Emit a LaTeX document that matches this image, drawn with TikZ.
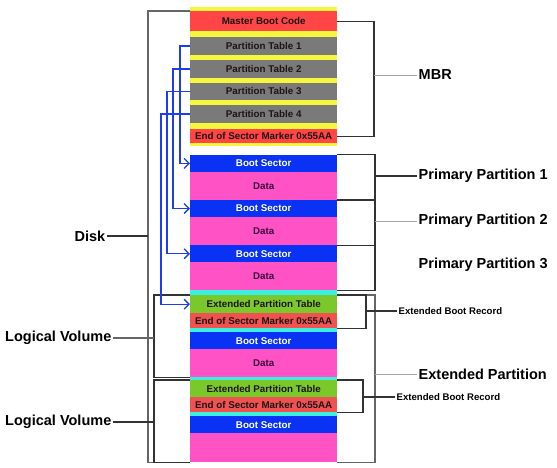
\documentclass[tikz,border=0pt]{standalone}
\usepackage{fontspec}
\setmainfont{Liberation Sans}
\usepackage{xcolor}
\usepackage{tikz}
\usetikzlibrary{arrows.meta, positioning}

\definecolor{mbrred}{HTML}{FF4545}
\definecolor{mbryellow}{HTML}{F6F63C}
\definecolor{ptgrey}{HTML}{7A7A7A}
\definecolor{bsblue}{HTML}{0A32F5}
\definecolor{datapink}{HTML}{FF52C4}
\definecolor{eptgreen}{HTML}{7AC82A}
\definecolor{eosred}{HTML}{F05252}
\definecolor{gapcyan}{HTML}{3CF0E1}
\definecolor{arrblue}{HTML}{1E3CF0}
\definecolor{txtdark}{HTML}{1E1414}
\definecolor{datatxt}{HTML}{3C0A3C}

\tikzset{
    band/.style={anchor=north west, minimum width=147pt, inner sep=0pt,
        font=\fontsize{9.8}{10}\selectfont\bfseries, text=txtdark},
    brk/.style={draw=black!80, line width=1.4pt},
    pale/.style={draw=black!35, line width=1pt},
    biglabel/.style={inner sep=1.5pt, font=\fontsize{14.5}{16}\selectfont\bfseries},
    smalllabel/.style={inner sep=1.5pt, font=\fontsize{9.6}{11}\selectfont\bfseries},
    ptr/.style={draw=arrblue, line width=1.3pt, -{Straight Barb[length=5pt,width=10pt]}},
}

\begin{document}
\begin{tikzpicture}[x=1pt, y=-1pt]
                \useasboundingbox (0,0) rectangle (557,467);

                % 1. MBR
                \fill[mbryellow] (190,7) rectangle (337,146);
                \node[band, fill=mbrred, minimum height=20pt] (mbc) at (190,11) {Master Boot Code};
                \foreach \i/\top in {1/37, 2/60, 3/82.5, 4/105} {
                    \node[band, fill=ptgrey, minimum height=17.5pt] (pt\i) at (190,\top) {Partition Table \i};
                }
                \node[band, fill=mbrred, minimum height=14pt] (eos) at (190,129) {End of Sector Marker 0x55AA};

                % 2. Primary partitions
                \foreach \i/\top in {1/154.5, 2/199.7, 3/244.9} {
                    \node[band, fill=bsblue, text=white, minimum height=17.3pt] (bs\i) at (190,\top) {Boot Sector};
                    \node[band, fill=datapink, text=datatxt, minimum height=27.9pt] (d\i) at (190,\top+17.3) {Data};
                }

                % 3. Extended partition
                \fill[gapcyan] (190,289.5) rectangle (337,462);
                \node[band, fill=eptgreen, minimum height=18pt] (ept1) at (190,295) {Extended Partition Table};
                \node[band, fill=eosred, minimum height=15pt] (eos1) at (190,313) {End of Sector Marker 0x55AA};
                \node[band, fill=bsblue, text=white, minimum height=17pt] (bs4) at (190,332) {Boot Sector};
                \node[band, fill=datapink, text=datatxt, minimum height=28pt] (d4) at (190,349) {Data};
                \node[band, fill=eptgreen, minimum height=17pt] (ept2) at (190,380) {Extended Partition Table};
                \node[band, fill=eosred, minimum height=15pt] (eos2) at (190,397) {End of Sector Marker 0x55AA};
                \node[band, fill=bsblue, text=white, minimum height=17pt] (bs5) at (190,416) {Boot Sector};
                \node[band, fill=datapink, minimum height=29pt] (d5) at (190,433) {};

                % 4. Brackets on the right
                \coordinate (mbrx) at (374,0);
                \coordinate (ppx) at (375,0);
                \coordinate (ebr1x) at (366,0);
                \coordinate (ebr2x) at (363,0);
                \draw[brk] (mbc.east) -- (mbc.east -| mbrx) -- (eos.east -| mbrx) -- (eos.east);
                \node[biglabel, anchor=west] (mbr) at (417,75) {MBR};
                \draw[pale] (mbr.west) -- (mbr.west -| mbrx);

                \draw[brk] (bs1.north east) -- (bs1.north east -| ppx) -- (d3.south east -| ppx) -- (d3.south east);
                \draw[brk] (d1.south east) -- (d1.south east -| ppx);
                \draw[brk] (d2.south east) -- (d2.south east -| ppx);
                \node[biglabel, anchor=west] (pp1) at (417,176) {Primary Partition 1};
                \node[biglabel, anchor=west] (pp2) at (417,221) {Primary Partition 2};
                \node[biglabel, anchor=west] (pp3) at (417,265) {Primary Partition 3};
                \draw[brk] (pp1.west) -- (pp1.west -| ppx);
                \draw[pale] (pp2.west) -- (pp2.west -| ppx);

                \draw[brk, draw=black!60] (ept1.north east) -- (ept1.north east -| ppx) -- (d5.south east -| ppx) -- (d5.south east);
                \node[biglabel, anchor=west] (extp) at (417,374) {Extended Partition};
                \draw[pale] (extp.west) -- (extp.west -| ppx);

                \draw[brk] (ept1.north east) -- (ept1.north east -| ebr1x) -- (eos1.south east -| ebr1x) -- (eos1.south east);
                \node[smalllabel, anchor=west] (ebr1) at (397,311) {Extended Boot Record};
                \draw[brk] (ebr1.west) -- (ebr1.west -| ebr1x);
                \draw[brk] (ept2.north east) -- (ept2.north east -| ebr2x) -- (eos2.south east -| ebr2x) -- (eos2.south east);
                \node[smalllabel, anchor=west] (ebr2) at (395,397) {Extended Boot Record};
                \draw[brk] (ebr2.west) -- (ebr2.west -| ebr2x);

                % 5. Brackets on the left
                \coordinate (diskx) at (148,0);
                \coordinate (lvx) at (154,0);
                \draw[brk, draw=black!60] (mbc.north west) -- (mbc.north west -| diskx) -- (d5.south west -| diskx) -- (d5.south west);
                \node[biglabel, anchor=east] (disk) at (107,236) {Disk};
                \draw[brk] (disk.east) -- (disk.east -| diskx);

                \draw[brk] (ept1.north west) -- (ept1.north west -| lvx) -- (d4.south west -| lvx) -- (d4.south west);
                \draw[brk] (ept2.north west) -- (ept2.north west -| lvx) -- (d5.south west -| lvx) -- (d5.south west);
                \node[biglabel, anchor=east] (lv1) at (113,338) {Logical Volume};
                \node[biglabel, anchor=east] (lv2) at (113,422) {Logical Volume};
                \draw[brk, draw=black!60] (lv1.east) -- (lv1.east -| lvx);
                \draw[brk] (lv2.east) -- (lv2.east -| lvx);

                % 6. Pointers from the partition tables
                \draw[ptr] (pt1.west) -- ++(-10,0) |- (bs1.west);
                \draw[ptr] (pt2.west) -- ++(-17,0) |- (bs2.west);
                \draw[ptr] (pt3.west) -- ++(-23,0) |- (bs3.west);
                \draw[ptr] (pt4.west) -- ++(-29,0) |- (ept1.west);
            \end{tikzpicture}
\end{document}
